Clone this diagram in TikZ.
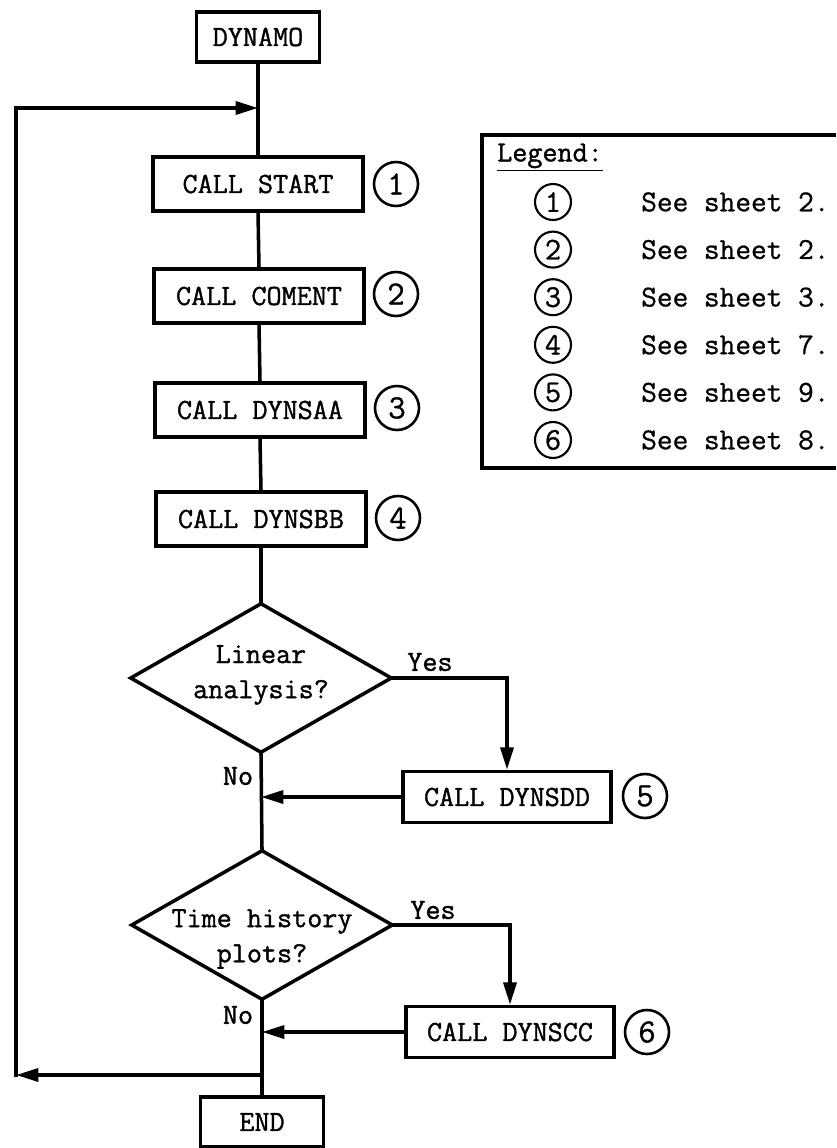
\documentclass[tikz,border=0pt]{standalone}
\usepackage{fontspec}
\newfontfamily\flowfont{Latin Modern Mono}[FakeBold=1.2]
\newfontfamily\legfont{Latin Modern Mono}[FakeBold=0.8]
\usetikzlibrary{arrows.meta,shapes.geometric,calc}

\tikzset{
  proc/.style={draw, line width=3pt, minimum width=6.3cm, minimum height=1.62cm, inner sep=0pt, font=\flowfont\fontsize{25}{29}\selectfont},
  term/.style={proc, minimum width=3.69cm, minimum height=1.5cm},
  decision/.style={draw, diamond, line width=3pt, minimum width=7.86cm, minimum height=4.5cm, inner sep=0pt},
  qtext/.style={align=center, font=\flowfont\fontsize{25}{30}\selectfont},
  badge/.style={draw, circle, line width=2.2pt, minimum size=1.32cm, inner sep=0pt, font=\legfont\fontsize{29}{29}\selectfont},
  lbadge/.style={badge, line width=1.8pt, minimum size=1.08cm, font=\legfont\fontsize{27}{27}\selectfont},
  lbl/.style={font=\flowfont\fontsize{25}{29}\selectfont, inner sep=0pt},
  flow/.style={line width=3pt, line cap=rect},
  arr/.style={flow, -{Triangle[length=19pt,width=11pt]}},
}

\begin{document}
\begin{tikzpicture}[x=0.03cm, y=-0.03cm]
    \useasboundingbox (0,0) rectangle (836,1148);

    % Main column
    \node[term] (dyn) at (258,37) {DYNAMO};
    \node[proc] (start) at (258,184) {CALL START};
    \node[proc] (coment) at (259,296) {CALL COMENT};
    \node[proc] (saa) at (260,410) {CALL DYNSAA};
    \node[proc] (sbb) at (261,519) {CALL DYNSBB};
    \node[decision] (q1) at (261,678) {};
    \node[qtext] (q1t) at (261,675) {Linear\\analysis?};
    \node[decision] (q2) at (262,925) {};
    \node[qtext] (q2t) at (262,939) {Time history\\plots?};
    \node[term] (stop) at (262,1122) {END};

    \draw[flow] (dyn.south) -- (start.north);
    \draw[flow] (start.south) -- (coment.north);
    \draw[flow] (coment.south) -- (saa.north);
    \draw[flow] (saa.south) -- (sbb.north);
    \draw[flow] (sbb.south) -- (q1.north);
    \draw[flow] (q1.south) -- (q2.north);
    \draw[flow] (q2.south) -- (stop.north);

    % Side branches
    \node[proc, minimum width=6.24cm, minimum height=1.53cm] (dd) at (507,797) {CALL DYNSDD};
    \node[proc, minimum width=6.24cm, minimum height=1.53cm] (cc) at (510,1032) {CALL DYNSCC};

    \draw[arr] (q1.east) -| (dd.north);
    \draw[arr] (q2.east) -| (cc.north);
    \draw[arr] (dd.west) -- (dd.west -| q1.south);
    \draw[arr] (cc.west) -- (cc.west -| q2.south);

    \node[lbl] (yes1) at (430,662) {Yes};
    \node[lbl] (yes2) at (433,910) {Yes};
    \node[lbl] (no1) at (238,776) {No};
    \node[lbl] (no2) at (238,1015) {No};

    % Return loop
    \coordinate (ret) at (262,1075);
    \coordinate (lb) at (16,1075);
    \coordinate (lt) at (16,108);
    \coordinate (top) at (258,108);
    \draw[arr] (ret) -- (lb);
    \draw[arr] (lb) -- (lt) -- (top);

    % Sheet references
    \node[badge] (c1) at (396,184) {1};
    \node[badge] (c2) at (396,294) {2};
    \node[badge] (c3) at (397,408) {3};
    \node[badge] (c4) at (398,518) {4};
    \node[badge] (c5) at (645,796) {5};
    \node[badge] (c6) at (647,1032) {6};

    % Legend
    \draw[line width=2.6pt] (836,135) -- (482,135) -- (482,468) -- (836,468);
    \node[lbl, anchor=west] (leg) at (497,157) {\underline{Legend:}};
    \foreach \n/\s in {1/2,2/2,3/3,4/7,5/9,6/8} {
        \node[lbadge] (k\n) at (553,{202+47.6*(\n-1)}) {\n};
        \node[lbl, anchor=west, font=\legfont\fontsize{26}{29}\selectfont] (t\n) at (641,{202+47.6*(\n-1)}) {See sheet \s.};
    }
\end{tikzpicture}
\end{document}
